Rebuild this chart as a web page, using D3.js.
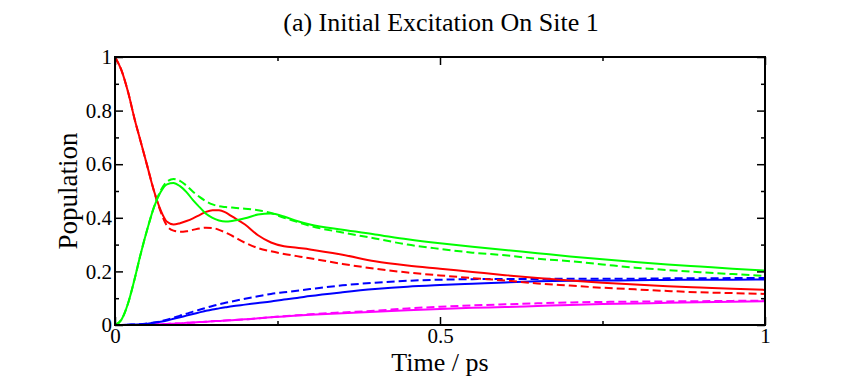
<!DOCTYPE html>
<html>
<head>
<meta charset="utf-8">
<script src="https://cdn.jsdelivr.net/npm/d3@7"></script>
<style>
  body { margin: 0; background: #fff; }
  svg text { font-family: "Liberation Serif", "Times New Roman", serif; fill: #000; }
</style>
</head>
<body>
<svg class="populationChart"></svg>
<script>
// time grid (ps)
const time = [0, 0.01, 0.02, 0.03, 0.04, 0.05, 0.06, 0.07, 0.08, 0.09, 0.1, 0.11, 0.12, 0.13, 0.14, 0.15, 0.16, 0.17, 0.18,
  0.2, 0.22, 0.24, 0.26, 0.28, 0.3, 0.35, 0.4, 0.45, 0.5, 0.55, 0.6, 0.65, 0.7, 0.75, 0.8, 0.85, 0.9, 0.95, 1.0];

const site1Solid = [1, 0.95, 0.87, 0.77, 0.68, 0.59, 0.5, 0.43, 0.385, 0.375, 0.38, 0.388, 0.398, 0.41, 0.422, 0.428, 0.428, 0.42, 0.405,
  0.375, 0.335, 0.308, 0.294, 0.288, 0.282, 0.262, 0.238, 0.222, 0.21, 0.198, 0.186, 0.175, 0.166, 0.158, 0.151, 0.145, 0.14, 0.135, 0.131];
const site1Dashed = [1, 0.95, 0.87, 0.77, 0.68, 0.59, 0.5, 0.425, 0.37, 0.352, 0.348, 0.35, 0.355, 0.36, 0.363, 0.362, 0.355, 0.345, 0.333,
  0.307, 0.287, 0.275, 0.265, 0.257, 0.249, 0.228, 0.21, 0.196, 0.185, 0.175, 0.166, 0.155, 0.147, 0.139, 0.133, 0.127, 0.122, 0.119, 0.116];

const site2Solid = [0, 0.02, 0.08, 0.17, 0.27, 0.36, 0.44, 0.495, 0.525, 0.53, 0.518, 0.496, 0.466, 0.44, 0.415, 0.4, 0.39, 0.386, 0.388,
  0.398, 0.412, 0.416, 0.405, 0.388, 0.375, 0.355, 0.338, 0.32, 0.305, 0.292, 0.28, 0.268, 0.256, 0.245, 0.235, 0.226, 0.218, 0.21, 0.203];
const site2Dashed = [0, 0.02, 0.08, 0.17, 0.27, 0.36, 0.44, 0.5, 0.535, 0.545, 0.538, 0.52, 0.497, 0.478, 0.462, 0.45, 0.443, 0.44, 0.438,
  0.434, 0.428, 0.418, 0.4, 0.385, 0.37, 0.345, 0.323, 0.3, 0.284, 0.27, 0.26, 0.247, 0.238, 0.226, 0.214, 0.205, 0.197, 0.19, 0.183];

const site3Solid = [0, 0, 0.001, 0.002, 0.003, 0.005, 0.008, 0.012, 0.017, 0.023, 0.029, 0.035, 0.041, 0.047, 0.053, 0.058, 0.062, 0.066, 0.07,
  0.076, 0.082, 0.088, 0.095, 0.101, 0.108, 0.122, 0.134, 0.143, 0.149, 0.154, 0.159, 0.163, 0.165, 0.166, 0.167, 0.168, 0.169, 0.169, 0.17];
const site3Dashed = [0, 0, 0.001, 0.002, 0.003, 0.006, 0.009, 0.014, 0.02, 0.027, 0.035, 0.042, 0.05, 0.057, 0.064, 0.071, 0.077, 0.083, 0.088,
  0.098, 0.107, 0.116, 0.122, 0.128, 0.134, 0.148, 0.158, 0.165, 0.169, 0.171, 0.172, 0.172, 0.173, 0.173, 0.173, 0.174, 0.174, 0.175, 0.175];

const site4Solid = [0, 0, 0, 0, 0.0005, 0.001, 0.002, 0.003, 0.004, 0.005, 0.006, 0.008, 0.009, 0.011, 0.012, 0.014, 0.015, 0.017, 0.018,
  0.021, 0.025, 0.029, 0.032, 0.035, 0.038, 0.044, 0.049, 0.055, 0.06, 0.064, 0.067, 0.071, 0.075, 0.078, 0.08, 0.083, 0.085, 0.087, 0.089];
const site4Dashed = [0, 0, 0, 0, 0.0005, 0.001, 0.002, 0.003, 0.004, 0.005, 0.006, 0.008, 0.009, 0.011, 0.012, 0.014, 0.015, 0.017, 0.018,
  0.021, 0.025, 0.029, 0.033, 0.036, 0.04, 0.047, 0.053, 0.062, 0.068, 0.073, 0.077, 0.081, 0.084, 0.086, 0.087, 0.088, 0.089, 0.09, 0.091];

const xTicks = [0, 0.5, 1];
const xMinorTicks = [0.25, 0.75];
const yTicks = [0, 0.2, 0.4, 0.6, 0.8, 1];
const yMinorTicks = [0.1, 0.3, 0.5, 0.7, 0.9];

const series = [
  { values: site4Solid, color: "#ff00ff", dash: null },
  { values: site4Dashed, color: "#ff00ff", dash: "8,4" },
  { values: site3Solid, color: "#0000ff", dash: null },
  { values: site3Dashed, color: "#0000ff", dash: "8,4" },
  { values: site1Dashed, color: "#ff0000", dash: "8,4" },
  { values: site1Solid, color: "#ff0000", dash: null },
  { values: site2Dashed, color: "#00ff00", dash: "8,4" },
  { values: site2Solid, color: "#00ff00", dash: null }
];

const margin = {top: 57, right: 76, bottom: 57, left: 115},
  fullW = 841, fullH = 382,
  width = fullW - margin.left - margin.right,
  height = fullH - margin.top - margin.bottom;

const root = d3.select(".populationChart")
  .attr("width", fullW)
  .attr("height", fullH);

root.append("text")
  .attr("x", 441)
  .attr("y", 31)
  .attr("text-anchor", "middle")
  .style("font-size", "26px")
  .text("(a) Initial Excitation On Site 1");

const svg = root.append("g")
  .attr("transform", `translate(${margin.left},${margin.top})`);

const x = d3.scaleLinear().domain([0, 1]).range([0, width]);
const y = d3.scaleLinear().domain([0, 1]).range([height, 0]);

// curves
const line = d3.line()
  .x((d, i) => x(time[i]))
  .y(d => y(d))
  .curve(d3.curveMonotoneX);

svg.selectAll(".series")
  .data(series)
  .enter()
  .append("path")
  .attr("class", "series")
  .attr("d", d => line(d.values))
  .attr("fill", "none")
  .attr("stroke", d => d.color)
  .attr("stroke-width", 2)
  .attr("stroke-dasharray", d => d.dash);

// axes, ticks pointing inward
function styleAxis(g) {
  g.select(".domain").remove();
  g.selectAll(".tick line").attr("stroke", "#000").attr("stroke-width", 1.5);
  g.selectAll(".tick text").style("font-size", "21px").style("font-family", "Liberation Serif");
}

svg.append("g")
  .attr("transform", `translate(0,${height})`)
  .call(d3.axisBottom(x).tickValues(xTicks).tickSize(-8).tickPadding(3).tickFormat(d3.format("")))
  .call(styleAxis);
svg.append("g")
  .attr("transform", `translate(0,${height})`)
  .call(d3.axisBottom(x).tickValues(xMinorTicks).tickSize(-4).tickFormat(""))
  .call(styleAxis);
svg.append("g")
  .call(d3.axisTop(x).tickValues(xTicks).tickSize(-8).tickFormat(""))
  .call(styleAxis);
svg.append("g")
  .call(d3.axisTop(x).tickValues(xMinorTicks).tickSize(-4).tickFormat(""))
  .call(styleAxis);

svg.append("g")
  .call(d3.axisLeft(y).tickValues(yTicks).tickSize(-8).tickPadding(3).tickFormat(d3.format("")))
  .call(styleAxis);
svg.append("g")
  .call(d3.axisLeft(y).tickValues(yMinorTicks).tickSize(-4).tickFormat(""))
  .call(styleAxis);
svg.append("g")
  .attr("transform", `translate(${width},0)`)
  .call(d3.axisRight(y).tickValues(yTicks).tickSize(-8).tickFormat(""))
  .call(styleAxis);
svg.append("g")
  .attr("transform", `translate(${width},0)`)
  .call(d3.axisRight(y).tickValues(yMinorTicks).tickSize(-4).tickFormat(""))
  .call(styleAxis);

// frame
svg.append("rect")
  .attr("width", width)
  .attr("height", height)
  .attr("fill", "none")
  .attr("stroke", "#000")
  .attr("stroke-width", 2);

// axis titles
svg.append("text")
  .attr("x", width / 2)
  .attr("y", height + 46)
  .attr("text-anchor", "middle")
  .style("font-size", "26px")
  .text("Time / ps");

svg.append("text")
  .attr("transform", `translate(-38,${height / 2}) rotate(-90)`)
  .attr("text-anchor", "middle")
  .style("font-size", "27px")
  .text("Population");
</script>
</body>
</html>
